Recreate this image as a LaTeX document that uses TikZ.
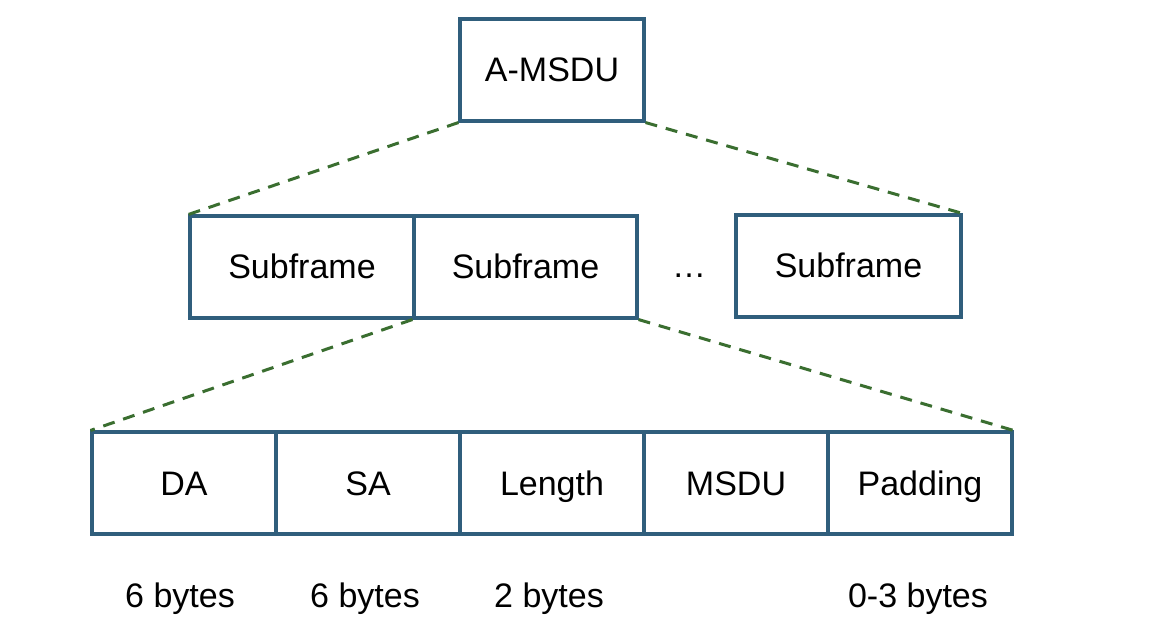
\documentclass[tikz,border=0pt]{standalone}
\usepackage{fontspec}
\setmainfont{Liberation Sans}
\definecolor{boxc}{RGB}{48,94,124}
\definecolor{dashc}{RGB}{58,110,48}
\begin{document}
\begin{tikzpicture}[x=1pt,y=-1pt,
  frame/.style={draw=boxc,line width=3.1pt,inner sep=0pt,minimum height=102pt,text height=26pt,text depth=2pt,font=\fontsize{34}{40}\selectfont},
  link/.style={draw=dashc,line width=3pt,dash pattern=on 12pt off 9pt},
  lbl/.style={inner sep=0pt,text height=26pt,text depth=2pt,font=\fontsize{34}{40}\selectfont}]
\useasboundingbox (0,0) rectangle (1162,644);
\node[frame,minimum width=184pt] (am) at (552,70) {A-MSDU};
\node[frame,minimum width=224pt] (s1) at (302,267) {Subframe};
\node[frame,minimum width=223pt] (s2) at (525.5,267) {Subframe};
\node[lbl] (dots) at (689,266) {\dots};
\node[frame,minimum width=225pt] (s3) at (848.5,266) {Subframe};
\node[frame,minimum width=184pt] (da) at (184,483) {DA};
\node[frame,minimum width=184pt] (sa) at (368,483) {SA};
\node[frame,minimum width=184pt] (len) at (552,483) {Length};
\node[frame,minimum width=184pt] (msdu) at (736,483) {MSDU};
\node[frame,minimum width=184pt] (pad) at (920,483) {Padding};
\node[lbl] (l1) at (180,595) {6 bytes};
\node[lbl] (l2) at (365,595) {6 bytes};
\node[lbl] (l3) at (549,595) {2 bytes};
\node[lbl] (l4) at (918,595) {0-3 bytes};
\draw[link] (am.south west) -- (s1.north west);
\draw[link] (am.south east) -- (s3.north east);
\draw[link] (s2.south west) -- (da.north west);
\draw[link] (s2.south east) -- (pad.north east);
\end{tikzpicture}
\end{document}
